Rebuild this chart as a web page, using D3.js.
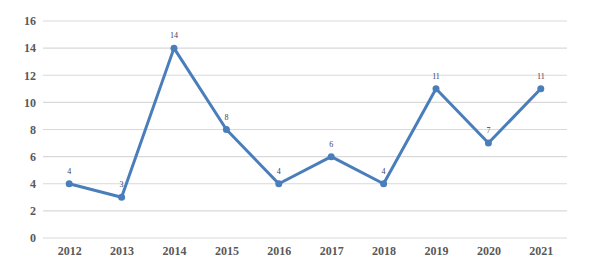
<!DOCTYPE html>
<html>
<head>
<meta charset="utf-8">
<script src="https://cdn.jsdelivr.net/npm/d3@7"></script>
<style>
  body { margin: 0; background: #fff; }
</style>
</head>
<body>
<div id="chart"></div>
<script>
// chart data
const years = ['2012', '2013', '2014', '2015', '2016', '2017', '2018', '2019', '2020', '2021'];
const counts = [4, 3, 14, 8, 4, 6, 4, 11, 7, 11];
const yTicks = [0, 2, 4, 6, 8, 10, 12, 14, 16];

const W = 593, H = 272;
const margin = { top: 21, right: 26, bottom: 34, left: 43 };
const width = W - margin.left - margin.right;
const height = H - margin.top - margin.bottom;

const svg = d3.select('#chart').append('svg')
    .attr('width', W)
    .attr('height', H);

const g = svg.append('g')
    .attr('transform', `translate(${margin.left},${margin.top})`);

const x = d3.scalePoint().domain(years).range([0, width]).padding(0.5);
const y = d3.scaleLinear().domain([0, 16]).range([height, 0]);

// gridlines
g.selectAll('.grid')
    .data(yTicks)
    .enter().append('line')
    .attr('x1', 0)
    .attr('x2', width)
    .attr('y1', d => y(d))
    .attr('y2', d => y(d))
    .attr('stroke', '#d9d9d9')
    .attr('stroke-width', 1.2);

// y axis labels
const yAxis = g.append('g')
    .call(d3.axisLeft(y).tickValues(yTicks).tickSize(0).tickPadding(7));
yAxis.select('.domain').remove();
yAxis.selectAll('text')
    .attr('font-family', '"Liberation Serif", "DejaVu Serif", serif')
    .attr('font-weight', 'bold')
    .attr('font-size', 12)
    .attr('fill', '#595959');

// x axis labels
const xAxis = g.append('g')
    .attr('transform', `translate(0,${height})`)
    .call(d3.axisBottom(x).tickSize(0).tickPadding(8));
xAxis.select('.domain').remove();
xAxis.selectAll('text')
    .attr('font-family', '"Liberation Serif", "DejaVu Serif", serif')
    .attr('font-weight', 'bold')
    .attr('font-size', 12)
    .attr('fill', '#595959');

const pts = years.map((yr, i) => ({ year: yr, value: counts[i] }));

// line
g.append('path')
    .datum(pts)
    .attr('fill', 'none')
    .attr('stroke', '#4a7ebb')
    .attr('stroke-width', 3)
    .attr('stroke-linejoin', 'round')
    .attr('d', d3.line().x(d => x(d.year)).y(d => y(d.value)));

// markers
g.selectAll('.dot')
    .data(pts)
    .enter().append('circle')
    .attr('cx', d => x(d.year))
    .attr('cy', d => y(d.value))
    .attr('r', 3.5)
    .attr('fill', '#4a7ebb');

// data labels
g.selectAll('.lbl')
    .data(pts)
    .enter().append('text')
    .attr('x', d => x(d.year))
    .attr('y', d => y(d.value) - 10)
    .attr('text-anchor', 'middle')
    .attr('font-family', '"Liberation Serif", "DejaVu Serif", serif')
    .attr('font-size', 8)
    .attr('fill', '#404060')
    .text(d => d.value);
</script>
</body>
</html>
